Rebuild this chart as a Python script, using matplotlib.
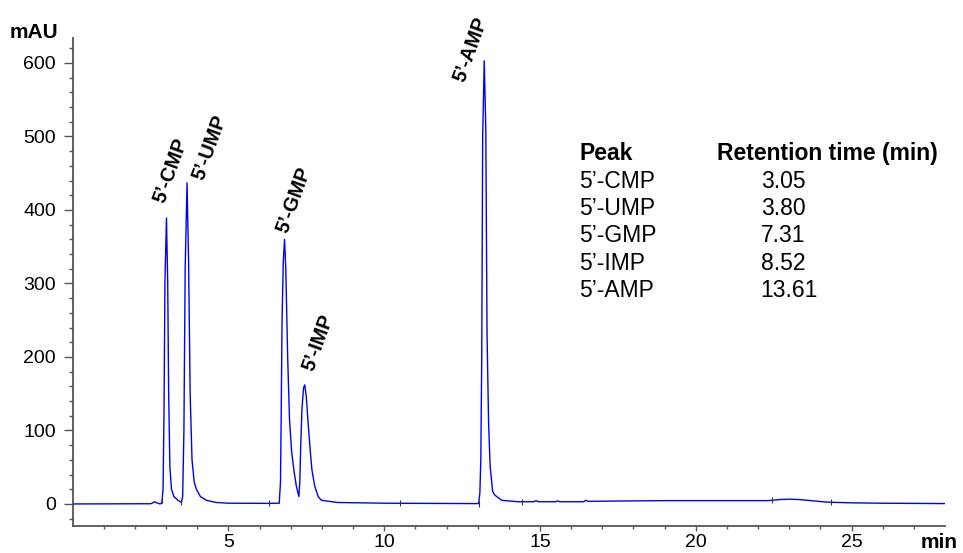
import numpy as np
import matplotlib
matplotlib.use("Agg")
import matplotlib.pyplot as plt

plt.rcParams['font.family'] = ['Liberation Sans', 'DejaVu Sans']

# chromatogram trace (min, mAU)
time_min = [0.0, 2.5, 2.55, 2.62, 2.7, 2.8, 2.86,
            2.9, 2.93, 2.96, 3.01, 3.05, 3.08, 3.12, 3.17, 3.25, 3.38, 3.49,
            3.53, 3.57, 3.61, 3.67, 3.72, 3.77, 3.83, 3.9, 3.97, 4.1, 4.29, 4.6, 5.0,
            6.3, 6.63, 6.67, 6.69, 6.72, 6.76, 6.80, 6.84, 6.90, 6.96, 7.03, 7.10, 7.18, 7.26,
            7.29, 7.32, 7.36, 7.41, 7.45, 7.50, 7.55, 7.62, 7.68, 7.77, 7.88, 7.98, 8.5, 10.0, 12.9,
            13.03, 13.07, 13.10, 13.13, 13.16, 13.21, 13.26, 13.30, 13.35, 13.40, 13.48, 13.55, 13.77,
            14.3, 14.8, 14.87, 14.95, 15.5, 15.56, 15.65, 16.4, 16.47, 16.55, 17.5, 19.0, 21.0,
            22.3, 22.7, 23.0, 23.3, 23.7, 24.2, 25.0, 26.0, 28.0]
signal_mau = [0.0, 0.3, 1.0, 3.0, 1.5, 0.0, 1.0,
              20, 120, 300, 389, 300, 150, 50, 20, 10, 5, 2,
              10, 100, 320, 437, 330, 150, 60, 30, 20, 10, 5, 2, 1,
              0.8, 1, 30, 110, 250, 330, 360, 320, 200, 114, 70, 46, 24, 10,
              30, 80, 130, 158, 162, 145, 114, 75, 46, 24, 10, 5, 2, 1, 0.5,
              0.5, 15, 60, 200, 500, 603, 510, 230, 110, 51, 17, 12, 5,
              3, 3, 4.5, 3, 3, 4, 3, 3, 5, 3.5, 4, 4.5, 4.5,
              4.5, 6, 6.5, 6, 4.5, 2.5, 1.5, 1, 0.5]

# integration event marks on the trace
event_min = [2.87, 3.49, 6.29, 10.5, 13.03, 14.41, 22.45, 24.35]

# peak labels at the apex
peak_names = ["5’-CMP", "5’-UMP", "5’-GMP", "5’-IMP", "5’-AMP"]
apex_min = [3.01, 3.67, 6.80, 7.45, 13.21]
apex_mau = [389, 437, 360, 162, 603]
label_offset_px = [(-7.6, 16), (10.8, 3.4), (-1.9, 7), (3.8, 14.7), (-25.2, -20.6)]

# retention time table
table_names = ["5’-CMP", "5’-UMP", "5’-GMP", "5’-IMP", "5’-AMP"]
table_rt = ["3.05", "3.80", "7.31", "8.52", "13.61"]

W, H = 963, 553
fig = plt.figure(figsize=(W / 100, H / 100), dpi=100)
ax = fig.add_axes([72.7 / W, 1 - 526 / H, (945 - 72.7) / W, (526 - 38) / H])

ax.plot(time_min, signal_mau, color="#0000ff", lw=1.0, zorder=3)
ev_y = np.interp(event_min, time_min, signal_mau)
ax.plot(event_min, ev_y, ls="none", marker="|", ms=4, mew=0.8, color="#333333", zorder=4)

ax.set_xlim(0, 28)
ax.set_ylim(-30, 634)
ax.set_xticks([5, 10, 15, 20, 25])
ax.set_xticks(np.arange(1, 28), minor=True)
ax.set_yticks([0, 100, 200, 300, 400, 500, 600])
ax.set_yticks(np.arange(-20, 634, 20), minor=True)

for s in ["top", "right"]:
    ax.spines[s].set_visible(False)
for s in ["left", "bottom"]:
    ax.spines[s].set_color("#555555")
    ax.spines[s].set_linewidth(1.3)

ax.tick_params(axis="y", which="major", length=6.5, width=1, color="#555555", labelsize=14, pad=5.5)
ax.tick_params(axis="y", which="minor", length=3.2, width=1, color="#555555")
ax.tick_params(axis="x", which="major", length=3.6, width=1, color="#555555", labelsize=14, pad=2.5)
ax.tick_params(axis="x", which="minor", length=2.0, width=1, color="#555555")

fig.text(10 / W, 1 - 32 / H, "mAU", fontsize=15, fontweight="bold", va="center", ha="left")
fig.text(958 / W, 1 - 542 / H, "min", fontsize=15, fontweight="bold", va="center", ha="right")

for name, x, y, (dx, dy) in zip(peak_names, apex_min, apex_mau, label_offset_px):
    ax.annotate(name, (x, y), xytext=(dx * 0.72, dy * 0.72), textcoords="offset points",
                rotation=70, rotation_mode="anchor", ha="left", va="center",
                fontsize=14.3, fontweight="bold", annotation_clip=False)

# table
row0 = 154
row_h = 27.3
fig.text(579.3 / W, 1 - row0 / H, "Peak", fontsize=16.5, fontweight="bold", va="center")
fig.text(716.7 / W, 1 - row0 / H, "Retention time (min)", fontsize=16.5, fontweight="bold", va="center")
for i, (n, rt) in enumerate(zip(table_names, table_rt)):
    y = row0 + row_h * (i + 1)
    fig.text(579.3 / W, 1 - y / H, n, fontsize=16.5, va="center")
    fig.text(760.7 / W, 1 - y / H, rt, fontsize=16.5, va="center")

fig.savefig("out.png", dpi=100)
